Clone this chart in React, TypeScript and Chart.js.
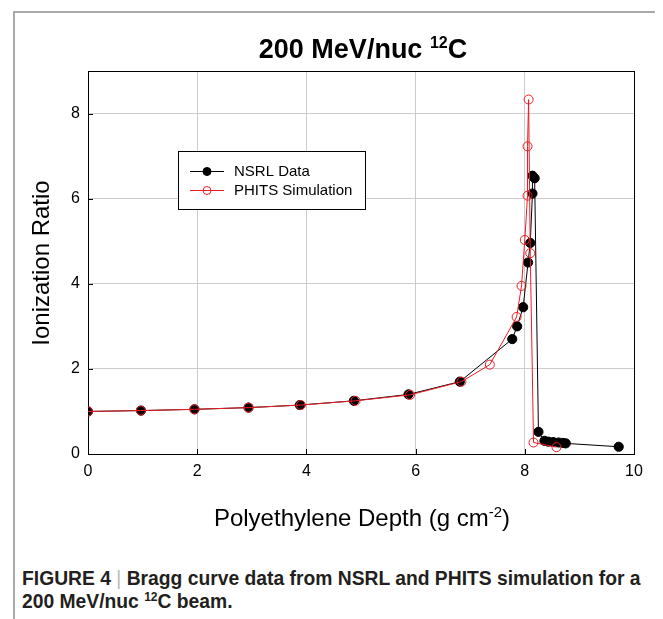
import React, { useEffect, useRef } from "react";
import { Chart, registerables } from "chart.js";

Chart.register(...registerables);

// ---- data ----
const nsrlDepth = [0, 0.97, 1.95, 2.94, 3.88, 4.87, 5.87, 6.81, 7.77, 7.86, 7.97, 8.06, 8.1, 8.14, 8.14, 8.18, 8.25, 8.36, 8.43, 8.52, 8.62, 8.7, 8.75, 9.72];
const nsrlRatio = [1.0, 1.02, 1.05, 1.09, 1.15, 1.25, 1.4, 1.7, 2.7, 3.0, 3.45, 4.5, 4.96, 6.12, 6.54, 6.48, 0.52, 0.31, 0.29, 0.28, 0.27, 0.26, 0.25, 0.17];
const phitsDepth = [0, 0.97, 1.95, 2.94, 3.9, 4.9, 5.9, 6.84, 7.36, 7.85, 7.94, 8.0, 8.05, 8.05, 8.07, 8.1, 8.16, 8.58];
const phitsRatio = [1.0, 1.02, 1.05, 1.09, 1.15, 1.25, 1.39, 1.7, 2.1, 3.22, 3.95, 5.03, 6.07, 7.23, 8.33, 4.72, 0.27, 0.16];
const seriesNames = ["NSRL Data", "PHITS Simulation"];
const xTicks = [0, 2, 4, 6, 8, 10];
const yTicks = [0, 2, 4, 6, 8];

const FONT = "'Liberation Sans', Arial, sans-serif";
const RED = "#ee1c24";

const W = 655;
const H = 530;
const AREA = { left: 80, top: 63, right: 626, bottom: 446 };

function drawParts(ctx: CanvasRenderingContext2D, parts: { t: string; font: string; dy: number }[], cx: number, y: number) {
  let total = 0;
  for (const p of parts) {
    ctx.font = p.font;
    total += ctx.measureText(p.t).width;
  }
  let x = cx - total / 2;
  ctx.textAlign = "left";
  ctx.textBaseline = "alphabetic";
  for (const p of parts) {
    ctx.font = p.font;
    ctx.fillText(p.t, x, y + p.dy);
    x += ctx.measureText(p.t).width;
  }
}

const decorPlugin = {
  id: "decor",
  beforeDatasetsDraw(chart: any) {
    const ctx: CanvasRenderingContext2D = chart.ctx;
    const a = chart.chartArea;
    const xs = chart.scales.x;
    const ys = chart.scales.y;
    ctx.save();
    ctx.strokeStyle = "#000";
    ctx.lineWidth = 1;
    ctx.beginPath();
    for (const v of xTicks) {
      const px = Math.round(xs.getPixelForValue(v)) + 0.5;
      ctx.moveTo(px, a.bottom);
      ctx.lineTo(px, a.bottom - 5);
    }
    for (const v of yTicks) {
      const py = Math.round(ys.getPixelForValue(v)) + 0.5;
      ctx.moveTo(a.left, py);
      ctx.lineTo(a.left + 5, py);
    }
    ctx.stroke();
    ctx.strokeRect(Math.round(a.left) + 0.5, Math.round(a.top) + 0.5, Math.round(a.right - a.left), Math.round(a.bottom - a.top));
    ctx.restore();
  },
  afterDraw(chart: any) {
    const ctx: CanvasRenderingContext2D = chart.ctx;
    ctx.save();
    ctx.fillStyle = "#000";
    drawParts(
      ctx,
      [
        { t: "200 MeV/nuc ", font: `bold 27px ${FONT}`, dy: 0 },
        { t: "12", font: `bold 16px ${FONT}`, dy: -10 },
        { t: "C", font: `bold 27px ${FONT}`, dy: 0 },
      ],
      355,
      50
    );
    drawParts(
      ctx,
      [
        { t: "Polyethylene Depth (g cm", font: `24px ${FONT}`, dy: 0 },
        { t: "-2", font: `15px ${FONT}`, dy: -9 },
        { t: ")", font: `24px ${FONT}`, dy: 0 },
      ],
      354,
      518
    );
    ctx.save();
    ctx.translate(41, 255);
    ctx.rotate(-Math.PI / 2);
    ctx.font = `24px ${FONT}`;
    ctx.textAlign = "center";
    ctx.textBaseline = "alphabetic";
    ctx.fillText("Ionization Ratio", 0, 0);
    ctx.restore();

    const bx = 170.5, by = 143.5, bw = 187, bh = 58;
    ctx.fillStyle = "#fff";
    ctx.fillRect(bx, by, bw, bh);
    ctx.strokeStyle = "#000";
    ctx.lineWidth = 1;
    ctx.strokeRect(bx, by, bw, bh);
    const rows = [163, 182];
    chart.data.datasets.forEach((ds: any, i: number) => {
      const yy = rows[i];
      ctx.strokeStyle = ds.borderColor;
      ctx.lineWidth = 1;
      ctx.beginPath();
      ctx.moveTo(182, yy + 0.5);
      ctx.lineTo(216, yy + 0.5);
      ctx.stroke();
      ctx.beginPath();
      ctx.arc(199, yy + 0.5, 4, 0, Math.PI * 2);
      ctx.fillStyle = ds.pointBackgroundColor;
      ctx.fill();
      ctx.strokeStyle = ds.pointBorderColor;
      ctx.stroke();
      ctx.fillStyle = "#000";
      ctx.font = `15px ${FONT}`;
      ctx.textAlign = "left";
      ctx.textBaseline = "middle";
      ctx.fillText(seriesNames[i], 226, yy + 1);
    });
    ctx.restore();
  },
};

export default function App() {
  const ref = useRef<HTMLCanvasElement | null>(null);

  useEffect(() => {
    if (!ref.current) return;
    const chart = new Chart(ref.current, {
      type: "line",
      data: {
        datasets: [
          {
            label: seriesNames[0],
            data: nsrlDepth.map((x, i) => ({ x, y: nsrlRatio[i] })),
            borderColor: "#000",
            borderWidth: 1,
            pointBackgroundColor: "#000",
            pointBorderColor: "#000",
            pointRadius: 4.6,
            pointBorderWidth: 1,
            tension: 0,
            fill: false,
            order: 1,
          },
          {
            label: seriesNames[1],
            data: phitsDepth.map((x, i) => ({ x, y: phitsRatio[i] })),
            borderColor: RED,
            borderWidth: 1,
            pointBackgroundColor: "rgba(255,255,255,0)",
            pointBorderColor: RED,
            pointRadius: 4.5,
            pointBorderWidth: 1,
            tension: 0,
            fill: false,
            order: 0,
          },
        ],
      },
      options: {
        responsive: false,
        animation: false,
        layout: { padding: { top: AREA.top, right: W - AREA.right, left: 0, bottom: 0 } },
        plugins: { legend: { display: false }, title: { display: false }, tooltip: { enabled: false } },
        scales: {
          x: {
            type: "linear",
            min: 0,
            max: 10,
            ticks: { stepSize: 2, color: "#000", font: { family: FONT, size: 16 }, padding: 8, maxRotation: 0 },
            grid: { color: "#cccccc", lineWidth: 1, drawTicks: false },
            border: { display: false },
            afterFit: (s: any) => {
              s.height = H - AREA.bottom;
            },
          },
          y: {
            type: "linear",
            min: 0,
            max: 9,
            ticks: { stepSize: 2, includeBounds: false, color: "#000", font: { family: FONT, size: 16 }, padding: 8 },
            grid: { color: "#cccccc", lineWidth: 1, drawTicks: false },
            border: { display: false },
            afterFit: (s: any) => {
              s.width = AREA.left;
            },
          },
        },
      },
      plugins: [decorPlugin],
    } as any);
    return () => chart.destroy();
  }, []);

  return (
    <div style={{ position: "relative", width: 655, height: 611, overflow: "hidden" }}>
      <div
        style={{
          position: "absolute",
          left: 5,
          top: 3,
          width: 650,
          height: 620,
          boxSizing: "border-box",
          borderTop: "2px solid #a9a9a9",
          borderLeft: "2px solid #a9a9a9",
          borderRight: "1px solid #ececec",
        }}
      />
      <canvas ref={ref} width={W} height={H} style={{ position: "absolute", left: 0, top: 0, width: W, height: H }} />
      <div
        style={{
          position: "absolute",
          left: 14,
          top: 559,
          fontFamily: FONT,
          fontWeight: "bold",
          fontSize: 19.3,
          lineHeight: "23px",
          color: "#231f20",
          whiteSpace: "nowrap",
        }}
      >
        FIGURE 4 <span style={{ color: "#bbb", fontWeight: "normal" }}>|</span> Bragg curve data from NSRL and PHITS simulation for a
        <br />
        200 MeV/nuc <sup style={{ fontSize: 12, lineHeight: 0 }}>12</sup>C beam.
      </div>
    </div>
  );
}
